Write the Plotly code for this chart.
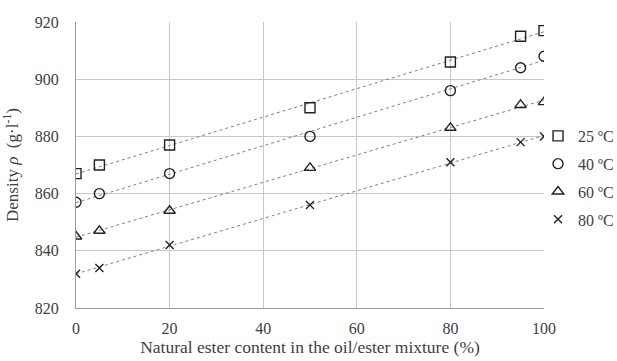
import numpy as np
import plotly.graph_objects as go

content = [0, 5, 20, 50, 80, 95, 100]
rho_25 = [867, 870, 877, 890, 906, 915, 917]
rho_40 = [857, 860, 867, 880, 896, 904, 908]
rho_60 = [845, 847, 854, 869, 883, 891, 892]
rho_80 = [832, 834, 842, 856, 871, 878, 880]
labels = ["25 ºC", "40 ºC", "60 ºC", "80 ºC"]
series = [rho_25, rho_40, rho_60, rho_80]
symbols = ["square-open", "circle-open", "triangle-up-open", "x-thin-open"]
sizes = [10, 10, 10, 8]

fig = go.Figure()
xs = np.array(content, dtype=float)
for lab, ys, sym, sz in zip(labels, series, symbols, sizes):
    k, b = np.polyfit(xs, np.array(ys, dtype=float), 1)
    xl = np.array([xs.min(), xs.max()])
    fig.add_trace(go.Scatter(x=xl, y=k * xl + b, mode="lines",
                             line=dict(color="#808080", width=1, dash="dot"),
                             showlegend=False, hoverinfo="skip"))
for lab, ys, sym, sz in zip(labels, series, symbols, sizes):
    fig.add_trace(go.Scatter(x=content, y=ys, mode="markers", name=lab,
                             legendgroup=lab,
                             marker=dict(symbol=sym, size=sz, color="#222222",
                                         line=dict(color="#222222", width=1.4))))

font = "Liberation Serif, Times New Roman, serif"
fig.update_layout(
    width=617, height=361, autosize=False,
    margin=dict(l=76, r=73, t=22, b=53, autoexpand=False),
    paper_bgcolor="white", plot_bgcolor="white",
    font=dict(family=font, size=16, color="#404040"),
    showlegend=True,
    legend=dict(xref="container", yref="container", x=0.872, y=0.507,
                xanchor="left", yanchor="middle",
                font=dict(family=font, size=16, color="#404040"),
                tracegroupgap=4, itemwidth=30, bgcolor="rgba(0,0,0,0)"),
    xaxis=dict(range=[0, 100], tickvals=[0, 20, 40, 60, 80, 100],
               showgrid=True, gridcolor="#c8c8c8", gridwidth=1,
               showline=True, linecolor="#999999", linewidth=1,
               zeroline=False, ticks="", ticklabelstandoff=6,
               automargin=False, tickfont=dict(size=16),
               title=dict(text="Natural ester content in the oil/ester mixture (%)",
                          font=dict(size=17.5), standoff=4)),
    yaxis=dict(range=[820, 920], tickvals=[820, 840, 860, 880, 900, 920],
               showgrid=True, gridcolor="#c8c8c8", gridwidth=1,
               showline=True, linecolor="#999999", linewidth=1,
               zeroline=False, ticks="", ticklabelstandoff=13,
               automargin=False, tickfont=dict(size=16),
               title=dict(text="Density <i>ρ</i>  (g·l<sup>-1</sup>)",
                          font=dict(size=17), standoff=12)),
)
fig.write_html(
    "out.html",
    config={"responsive": False, "displayModeBar": False},
    post_script="document.body.style.margin='0';document.body.style.overflow='hidden';",
)
